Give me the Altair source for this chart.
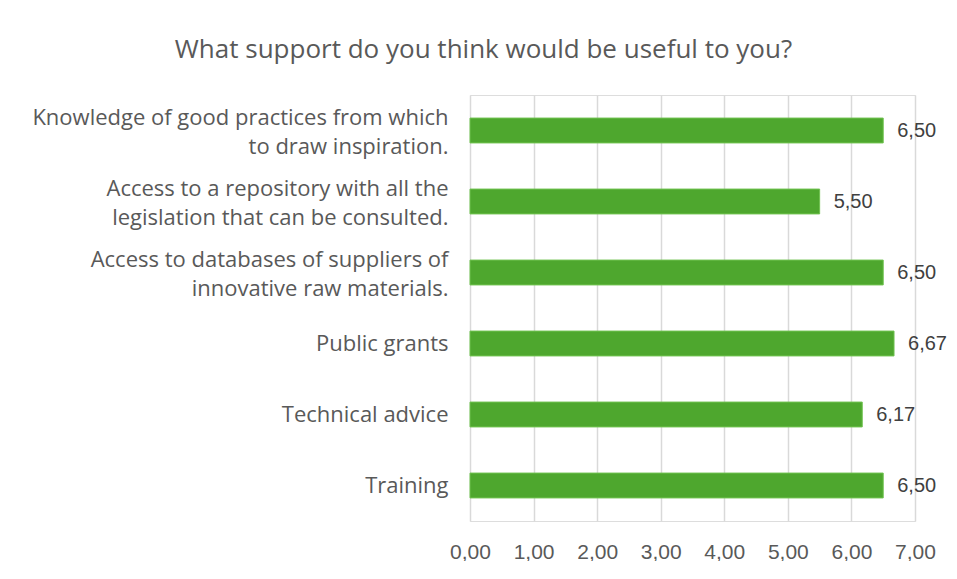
import altair as alt
import pandas as pd

categories = [
    ["Knowledge of good practices from which", "to draw inspiration."],
    ["Access to a repository with all the", "legislation that can be consulted."],
    ["Access to databases of suppliers of", "innovative raw materials."],
    ["Public grants"],
    ["Technical advice"],
    ["Training"],
]
values = [6.50, 5.50, 6.50, 6.67, 6.17, 6.50]
x_ticks = [0, 1, 2, 3, 4, 5, 6, 7]

keys = ["|".join(c) for c in categories]
df = pd.DataFrame({
    "key": keys,
    "value": values,
    "label": [f"{v:.2f}".replace(".", ",") for v in values],
})

y_enc = alt.Y(
    "key:N",
    sort=keys,
    title=None,
    scale=alt.Scale(paddingInner=0.65, paddingOuter=0.325),
    axis=alt.Axis(
        labelExpr="split(datum.label, '|')",
        labelFont="Open Sans",
        labelFontSize=22,
        labelColor="#595959",
        labelPadding=22,
        labelLineHeight=29,
        labelLimit=470,
        labelOffset={"condition": {"test": "indexof(datum.value, '|') >= 0", "value": -13}, "value": 0},
        ticks=False,
        domain=False,
        grid=False,
    ),
)

x_enc = alt.X(
    "value:Q",
    title=None,
    scale=alt.Scale(domain=[0, 7], nice=False),
    axis=alt.Axis(
        values=x_ticks,
        labelExpr="replace(format(datum.value, '.2f'), '.', ',')",
        labelFont="Liberation Sans",
        labelFontSize=21,
        labelColor="#595959",
        labelPadding=20,
        labelFlush=False,
        labelOverlap=False,
        ticks=False,
        domain=False,
        grid=True,
        gridColor="#D9D9D9",
        gridWidth=1.5,
    ),
)

base = alt.Chart(df)

bars = base.mark_bar(color="#4EA72E", stroke="#6FC24F", strokeWidth=1).encode(
    x=x_enc, y=y_enc
)

texts = base.mark_text(
    align="left", baseline="middle", dx=14,
    font="Liberation Sans", fontSize=20, color="#404040",
).encode(x="value:Q", y=alt.Y("key:N", sort=keys), text="label:N")

chart = (
    alt.layer(bars, texts)
    .properties(
        width=445,
        height=426,
        title=alt.TitleParams(
            "What support do you think would be useful to you?",
            font="Open Sans",
            fontSize=26,
            fontWeight="normal",
            color="#595959",
            anchor="middle",
            frame="group",
            dx=-209,
            offset=32,
        ),
        autosize=alt.AutoSizeParams(type="none"),
        padding={"left": 462, "top": 87, "right": 33, "bottom": 40},
    )
    .configure_view(strokeWidth=0, stroke="transparent")
    .configure(background="white")
)

chart.save("out.html", embed_options={"renderer": "svg", "actions": False})
